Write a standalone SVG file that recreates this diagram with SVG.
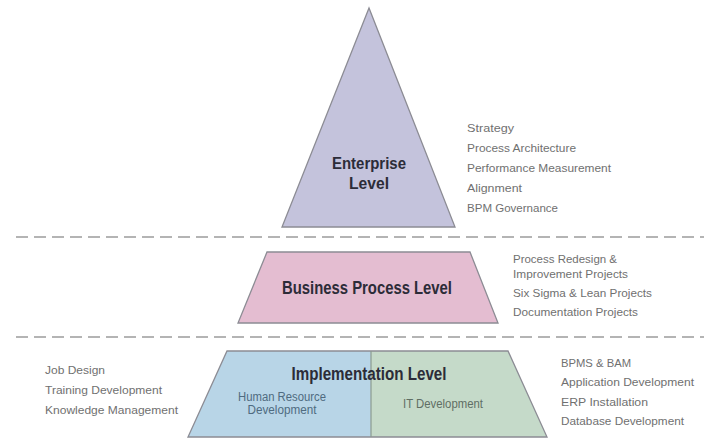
<svg xmlns="http://www.w3.org/2000/svg" width="704" height="444" viewBox="0 0 704 444">
<style>
.sep{stroke:#b4b4b4;stroke-width:2;stroke-dasharray:12 6;fill:none}
.shape{stroke:#8c8c94;stroke-width:1.3}
.title{font-family:"Liberation Sans",Arial,sans-serif;font-weight:bold;font-size:17.5px;fill:#2c2c38}
.desc{font-family:"Liberation Sans",Arial,sans-serif;font-size:11.8px;fill:#707070}
.sub{font-family:"Liberation Sans",Arial,sans-serif;font-size:12px}
</style>
<rect width="704" height="444" fill="#ffffff"/>
<g id="connectors">
<line class="sep" x1="16" y1="237" x2="704" y2="237"/>
<line class="sep" x1="16" y1="337" x2="704" y2="337"/>
</g>
<g id="enterprise-level">
<polygon class="shape" points="369,8 455,227 282,227" fill="#c4c3dc"/>
<text class="title" x="369" y="169" text-anchor="middle" textLength="74" lengthAdjust="spacingAndGlyphs" style="font-size:16.5px">Enterprise</text>
<text class="title" x="369" y="189" text-anchor="middle" textLength="40" lengthAdjust="spacingAndGlyphs" style="font-size:16.5px">Level</text>
</g>
<g id="enterprise-items">
<text class="desc" x="467" y="132" textLength="47" lengthAdjust="spacingAndGlyphs">Strategy</text>
<text class="desc" x="467" y="152" textLength="109" lengthAdjust="spacingAndGlyphs">Process Architecture</text>
<text class="desc" x="467" y="172" textLength="144" lengthAdjust="spacingAndGlyphs">Performance Measurement</text>
<text class="desc" x="467" y="192" textLength="55" lengthAdjust="spacingAndGlyphs">Alignment</text>
<text class="desc" x="467" y="212" textLength="91" lengthAdjust="spacingAndGlyphs">BPM Governance</text>
</g>
<g id="business-process-level">
<polygon class="shape" points="267,252 470,252 498,323 238,323" fill="#e4bdd1"/>
<text class="title" x="367" y="294" text-anchor="middle" textLength="170" lengthAdjust="spacingAndGlyphs" fill="#3a2a36">Business Process Level</text>
</g>
<g id="business-process-items">
<text class="desc" x="513" y="263" textLength="104" lengthAdjust="spacingAndGlyphs">Process Redesign &amp;</text>
<text class="desc" x="513" y="278" textLength="115" lengthAdjust="spacingAndGlyphs">Improvement Projects</text>
<text class="desc" x="513" y="297" textLength="139" lengthAdjust="spacingAndGlyphs">Six Sigma &amp; Lean Projects</text>
<text class="desc" x="513" y="316" textLength="125" lengthAdjust="spacingAndGlyphs">Documentation Projects</text>
</g>
<g id="implementation-level">
<polygon points="227,351 371,351 371,437 188,437" fill="#b8d5e7"/>
<polygon points="371,351 508,351 547,437 371,437" fill="#c5dac9"/>
<polygon class="shape" points="227,351 508,351 547,437 188,437" fill="none"/>
<line x1="371" y1="351" x2="371" y2="437" stroke="#8a9a90" stroke-width="1.2"/>
<text class="title" x="369" y="380" text-anchor="middle" textLength="155" lengthAdjust="spacingAndGlyphs" fill="#26303a">Implementation Level</text>
<g id="human-resource-development">
<text class="sub" x="282" y="401" text-anchor="middle" fill="#4f6b80" textLength="88" lengthAdjust="spacingAndGlyphs">Human Resource</text>
<text class="sub" x="282" y="414" text-anchor="middle" fill="#4f6b80" textLength="69" lengthAdjust="spacingAndGlyphs">Development</text>
</g>
<g id="it-development">
<text class="sub" x="443" y="408" text-anchor="middle" fill="#5f6e64" textLength="80" lengthAdjust="spacingAndGlyphs">IT Development</text>
</g>
</g>
<g id="hr-items">
<text class="desc" x="45" y="374" textLength="60" lengthAdjust="spacingAndGlyphs">Job Design</text>
<text class="desc" x="45" y="394" textLength="117" lengthAdjust="spacingAndGlyphs">Training Development</text>
<text class="desc" x="45" y="414" textLength="133" lengthAdjust="spacingAndGlyphs">Knowledge Management</text>
</g>
<g id="it-items">
<text class="desc" x="561" y="367" textLength="70" lengthAdjust="spacingAndGlyphs">BPMS &amp; BAM</text>
<text class="desc" x="561" y="386" textLength="133" lengthAdjust="spacingAndGlyphs">Application Development</text>
<text class="desc" x="561" y="406" textLength="87" lengthAdjust="spacingAndGlyphs">ERP Installation</text>
<text class="desc" x="561" y="425" textLength="123" lengthAdjust="spacingAndGlyphs">Database Development</text>
</g>
</svg>
